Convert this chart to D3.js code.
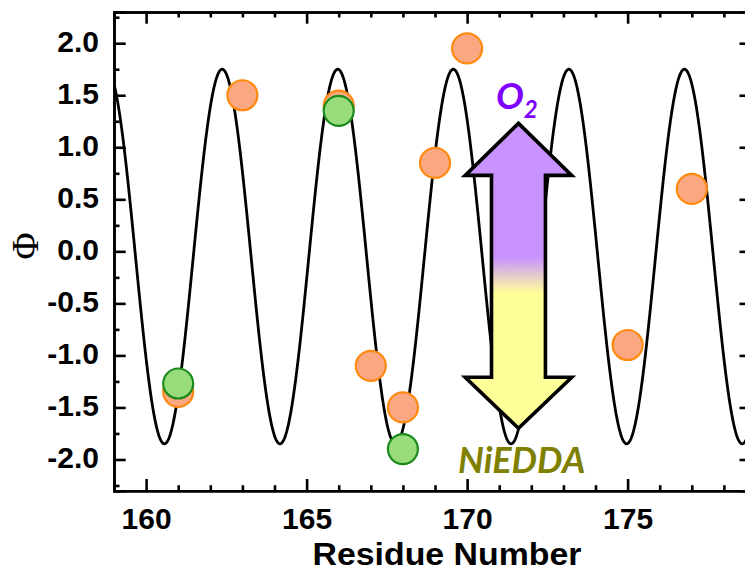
<!DOCTYPE html>
<html>
<head>
<meta charset="utf-8">
<script src="https://cdn.jsdelivr.net/npm/d3@7"></script>
<style>
  html, body { margin: 0; padding: 0; background: #fff; }
  svg { display: block; }
</style>
</head>
<body>
<svg id="chart" width="745" height="571"></svg>
<script>
// Accessibility measurements per residue
const residuesO2 = [161, 163, 166, 167, 168, 169, 170, 175, 177];
const phiO2 = [-1.35, 1.5, 1.4, -1.1, -1.5, 0.85, 1.95, -0.9, 0.6];
const residuesNi = [161, 166, 168];
const phiNi = [-1.27, 1.35, -1.9];

// Helical periodicity fit (alpha helix, 3.6 residues per turn)
const fitPeriod = 3.6;
const fitAmplitude = 1.8;
const fitOffset = -0.05;
const fitPeakResidue = 162.37;

// Axis ticks
const xMajorTicks = [160, 165, 170, 175];
const yMajorTicks = [-2.0, -1.5, -1.0, -0.5, 0.0, 0.5, 1.0, 1.5, 2.0];

// Annotation arrow (data units)
const arrowResidue = 171.6;
const arrowTop = 1.23, arrowTopBase = 0.73;
const arrowBottom = -1.70, arrowBottomBase = -1.21;
const arrowHeadHalf = 1.66, arrowShaftHalf = 0.84;
const fadeStart = -0.06, fadeEnd = -0.40;

const svg = d3.select("#chart");
const plotLeft = 114, plotRight = 751.2, plotTop = 12, plotBottom = 490.7;

const x = d3.scaleLinear().domain([159, 178.85]).range([plotLeft, plotRight]);
const y = d3.scaleLinear().domain([-2.3, 2.3]).range([plotBottom, plotTop]);

const xMinor = d3.range(159, 179, 1).filter(v => !xMajorTicks.includes(v));
const yMinor = d3.range(-2.25, 2.3, 0.25).map(v => +v.toFixed(2)).filter(v => !yMajorTicks.includes(v));

const font = "'Liberation Sans', Arial, sans-serif";
const axisStroke = 2.6;

function styleAxis(g) {
  g.selectAll(".domain").attr("stroke", "#000").attr("stroke-width", axisStroke);
  g.selectAll(".tick line").attr("stroke", "#000").attr("stroke-width", axisStroke);
  g.selectAll(".tick text")
    .attr("fill", "#000")
    .style("font-family", font)
    .style("font-weight", "bold")
    .style("font-size", "30px");
}

const majorLen = 11.7, minorLen = 5.5;

// bottom axis
svg.append("g").attr("transform", `translate(0,${plotBottom})`)
  .call(d3.axisBottom(x).tickValues(xMinor).tickSize(-minorLen).tickFormat(""))
  .call(styleAxis);
svg.append("g").attr("transform", `translate(0,${plotBottom})`)
  .call(d3.axisBottom(x).tickValues(xMajorTicks).tickSize(-majorLen).tickPadding(17).tickFormat(d3.format("d")))
  .call(styleAxis);
// top axis
svg.append("g").attr("transform", `translate(0,${plotTop})`)
  .call(d3.axisTop(x).tickValues(xMinor).tickSize(-minorLen).tickFormat(""))
  .call(styleAxis);
svg.append("g").attr("transform", `translate(0,${plotTop})`)
  .call(d3.axisTop(x).tickValues(xMajorTicks).tickSize(-majorLen).tickFormat(""))
  .call(styleAxis);
// left axis
svg.append("g").attr("transform", `translate(${plotLeft},0)`)
  .call(d3.axisLeft(y).tickValues(yMinor).tickSize(-minorLen).tickFormat(""))
  .call(styleAxis);
const yAxisG = svg.append("g").attr("transform", `translate(${plotLeft},0)`)
  .call(d3.axisLeft(y).tickValues(yMajorTicks).tickSize(-majorLen).tickPadding(15).tickFormat(d => d3.format(".1f")(d).replace("−", "-")))
  .call(styleAxis);
yAxisG.selectAll(".tick text").attr("dy", "0.27em");
// right axis
svg.append("g").attr("transform", `translate(${plotRight},0)`)
  .call(d3.axisRight(y).tickValues(yMinor).tickSize(-minorLen).tickFormat(""))
  .call(styleAxis);
svg.append("g").attr("transform", `translate(${plotRight},0)`)
  .call(d3.axisRight(y).tickValues(yMajorTicks).tickSize(-majorLen).tickFormat(""))
  .call(styleAxis);

// axis titles
svg.append("text")
  .attr("x", 447).attr("y", 565)
  .attr("text-anchor", "middle")
  .attr("textLength", 269).attr("lengthAdjust", "spacingAndGlyphs")
  .style("font-family", font).style("font-weight", "bold").style("font-size", "31px")
  .text("Residue Number");

svg.append("text")
  .attr("transform", "translate(38,246) rotate(-90)")
  .attr("text-anchor", "middle")
  .style("font-family", "'Liberation Serif', 'Times New Roman', serif")
  .style("font-size", "37px")
  .text("Φ");

// clip for the fit curve
svg.append("clipPath").attr("id", "plot-clip")
  .append("rect").attr("x", plotLeft).attr("y", plotTop)
  .attr("width", plotRight - plotLeft).attr("height", plotBottom - plotTop);

const fitX = d3.range(159, 178.85 + 0.001, 0.02);
const fit = r => fitOffset + fitAmplitude * Math.cos(2 * Math.PI * (r - fitPeakResidue) / fitPeriod);
svg.append("path")
  .attr("clip-path", "url(#plot-clip)")
  .attr("fill", "none").attr("stroke", "#000").attr("stroke-width", 2.8)
  .attr("d", d3.line().x(d => x(d)).y(d => y(fit(d)))(fitX));

// points
const o2 = residuesO2.map((r, i) => ({ r, v: phiO2[i] }));
const ni = residuesNi.map((r, i) => ({ r, v: phiNi[i] }));
svg.append("g").selectAll("circle").data(o2).join("circle")
  .attr("cx", d => x(d.r)).attr("cy", d => y(d.v)).attr("r", 15)
  .attr("fill", "#FBA882").attr("stroke", "#FF8A12").attr("stroke-width", 2.2);
svg.append("g").selectAll("circle").data(ni).join("circle")
  .attr("cx", d => x(d.r)).attr("cy", d => y(d.v)).attr("r", 15)
  .attr("fill", "#98DC7C").attr("stroke", "#1C8A1C").attr("stroke-width", 2.2);

// double-headed arrow with purple-to-yellow fade
const defs = svg.append("defs");
const grad = defs.append("linearGradient").attr("id", "arrow-fill")
  .attr("gradientUnits", "userSpaceOnUse")
  .attr("x1", 0).attr("x2", 0).attr("y1", y(fadeStart)).attr("y2", y(fadeEnd));
grad.append("stop").attr("offset", 0).attr("stop-color", "#C993FF");
grad.append("stop").attr("offset", 1).attr("stop-color", "#FFFF99");

const cx = x(arrowResidue);
const hw = x(arrowResidue + arrowHeadHalf) - cx;
const sw = x(arrowResidue + arrowShaftHalf) - cx;
const arrowPts = [
  [cx, y(arrowTop)],
  [cx + hw, y(arrowTopBase)],
  [cx + sw, y(arrowTopBase)],
  [cx + sw, y(arrowBottomBase)],
  [cx + hw, y(arrowBottomBase)],
  [cx, y(arrowBottom)],
  [cx - hw, y(arrowBottomBase)],
  [cx - sw, y(arrowBottomBase)],
  [cx - sw, y(arrowTopBase)],
  [cx - hw, y(arrowTopBase)]
];
svg.append("path")
  .attr("d", d3.line()(arrowPts) + "Z")
  .attr("fill", "url(#arrow-fill)")
  .attr("stroke", "#000").attr("stroke-width", 3.6).attr("stroke-linejoin", "miter");

// arrow labels
const labelFont = "Lato, 'Open Sans', sans-serif";
const o2Label = svg.append("text")
  .attr("x", x(170.9)).attr("y", y(1.37))
  .attr("fill", "#7F00FF")
  .style("font-family", labelFont).style("font-weight", "bold").style("font-style", "italic")
  .style("font-size", "37px");
o2Label.append("tspan").text("O");
o2Label.append("tspan").attr("dy", 9).style("font-size", "24px").text("2");

svg.append("text")
  .attr("x", x(169.72)).attr("y", y(-2.13))
  .attr("fill", "#808000")
  .style("font-family", labelFont).style("font-weight", "bold").style("font-style", "italic")
  .style("font-size", "36px")
  .text("NiEDDA");
</script>
</body>
</html>
